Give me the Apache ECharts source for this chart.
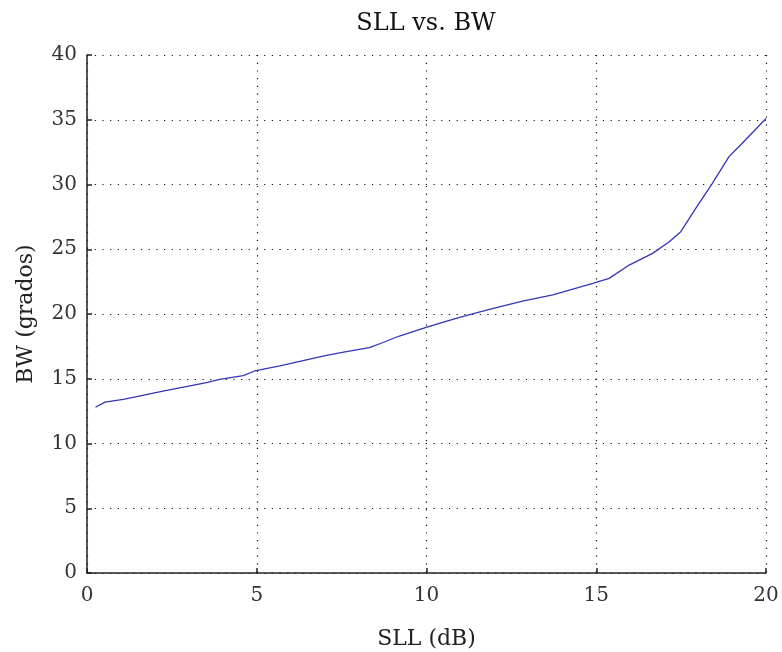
<!DOCTYPE html>
<html>
<head>
<meta charset="utf-8">
<script src="https://cdn.jsdelivr.net/npm/echarts@6/dist/echarts.min.js"></script>
<style>
  html, body { margin: 0; padding: 0; background: #fff; }
  #chart { width: 782px; height: 652px; }
</style>
</head>
<body>
<div id="chart"></div>
<script>
// Side lobe level (dB) and the corresponding beamwidth (degrees)
const sllValues = [0.25, 0.53, 1.07, 2.24, 3.52, 3.91, 4.6, 4.94, 5.68, 7.05, 7.64, 8.32, 8.72, 9.2, 9.99, 10.87, 11.85, 12.83, 13.72, 14.9, 15.38, 15.97, 16.66, 17.15, 17.49, 17.93, 18.42, 18.91, 19.3, 20.0];
const bwValues  = [12.8, 13.2, 13.4, 14.05, 14.7, 14.96, 15.24, 15.6, 16.0, 16.8, 17.1, 17.4, 17.8, 18.3, 18.97, 19.67, 20.36, 21.0, 21.47, 22.37, 22.75, 23.78, 24.68, 25.58, 26.36, 28.16, 30.09, 32.15, 33.18, 35.1];

const xTicks = [0, 5, 10, 15, 20];
const yTicks = [0, 5, 10, 15, 20, 25, 30, 35, 40];

const serif = '"DejaVu Serif", "Liberation Serif", serif';
const points = sllValues.map((x, i) => [x, bwValues[i]]);

const gridDots = { color: '#111', width: 1.2, type: [1.2, 6.5] };

const chart = echarts.init(document.getElementById('chart'));
chart.setOption({
  animation: false,
  backgroundColor: '#fff',
  title: {
    text: 'SLL vs. BW',
    left: 421, top: 7,
    textAlign: 'center',
    textStyle: { fontFamily: serif, fontSize: 24, fontWeight: 'normal', color: '#111' }
  },
  grid: { left: 87, right: 16, top: 55, bottom: 79, containLabel: false, outerBoundsMode: 'none' },
  xAxis: {
    type: 'value',
    min: xTicks[0], max: xTicks[xTicks.length - 1], interval: 5,
    name: 'SLL (dB)',
    nameLocation: 'middle', nameGap: 55,
    nameTextStyle: { fontFamily: serif, fontSize: 22, color: '#222' },
    axisLine: { show: true, onZero: false, lineStyle: { color: '#222', width: 1.5 } },
    axisTick: { show: true, inside: true, length: 5, lineStyle: { color: '#222', width: 1.5 } },
    axisLabel: { fontFamily: serif, fontSize: 20, color: '#333', margin: 13 },
    splitLine: { show: true, lineStyle: gridDots }
  },
  yAxis: {
    type: 'value',
    min: yTicks[0], max: yTicks[yTicks.length - 1], interval: 5,
    name: 'BW (grados)',
    nameLocation: 'middle', nameGap: 50,
    nameTextStyle: { fontFamily: serif, fontSize: 22, color: '#222' },
    axisLine: { show: true, onZero: false, lineStyle: { color: '#222', width: 1.5 } },
    axisTick: { show: true, inside: true, length: 5, lineStyle: { color: '#222', width: 1.5 } },
    axisLabel: { fontFamily: serif, fontSize: 20, color: '#333', margin: 10 },
    splitLine: { show: true, lineStyle: gridDots }
  },
  series: [{
    type: 'line',
    data: points,
    showSymbol: false,
    smooth: false,
    lineStyle: { color: '#3535b5', width: 1.3 }
  }]
});
</script>
</body>
</html>
